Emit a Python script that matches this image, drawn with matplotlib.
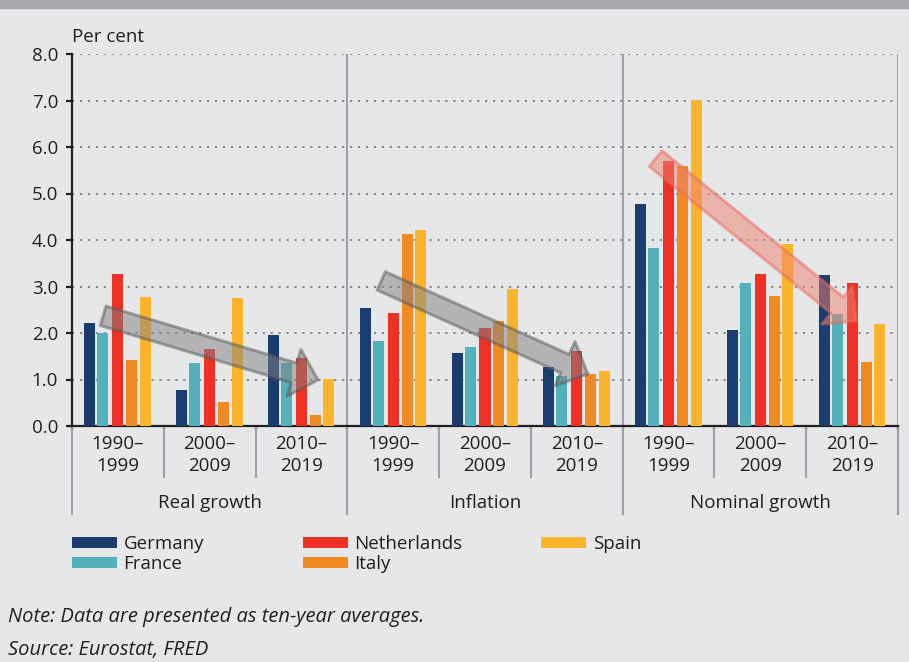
import matplotlib
matplotlib.use('Agg')
import matplotlib.pyplot as plt
import matplotlib.transforms as mtransforms
from matplotlib.patches import FancyArrowPatch, Patch, Rectangle, ArrowStyle
import numpy as np

plt.rcParams['font.family'] = ['Open Sans', 'DejaVu Sans']

countries = ['Germany', 'France', 'Netherlands', 'Italy', 'Spain']
colors = ['#1b3c6e', '#52b1bb', '#ee3124', '#f08a23', '#fbb42b']
periods = ['1990–\n1999', '2000–\n2009', '2010–\n2019']
measures = ['Real growth', 'Inflation', 'Nominal growth']

# order: real growth (3 periods), inflation (3), nominal growth (3)
germany = [2.21, 0.77, 1.96, 2.54, 1.57, 1.27, 4.77, 2.06, 3.25]
france = [2.00, 1.35, 1.35, 1.83, 1.70, 1.07, 3.83, 3.07, 2.41]
netherlands = [3.27, 1.66, 1.46, 2.43, 2.11, 1.61, 5.70, 3.27, 3.07]
italy = [1.42, 0.52, 0.24, 4.13, 2.26, 1.12, 5.59, 2.80, 1.38]
spain = [2.77, 2.75, 1.01, 4.21, 2.94, 1.18, 7.01, 3.91, 2.19]
series = [germany, france, netherlands, italy, spain]

# trend arrows: (start x, start y) -> (end x, end y) in data units
arrow_starts = [(-0.16, 2.37), (2.87, 3.12), (5.86, 5.75)]
arrow_ends = [(2.18, 0.99), (5.12, 1.12), (8.05, 2.26)]

bg = '#e6e7e8'
txt = '#231f20'
fs = 13.5
fig = plt.figure(figsize=(9.09, 6.62), dpi=100, facecolor=bg)
W, H = 909, 662
ax = fig.add_axes([72 / W, 1 - 426 / H, (898 - 72) / W, (426 - 54) / H])
ax.set_facecolor(bg)

x = np.arange(9)
offsets = [-0.305, -0.163, 0.0, 0.152, 0.30]
for vals, off, c, name in zip(series, offsets, colors, countries):
    ax.bar(x + off, vals, width=0.12, color=c, label=name, zorder=3)

ax.set_xlim(-0.5, 8.5)
ax.set_ylim(0, 8)
ax.set_yticks(np.arange(0, 9))
ax.set_yticklabels([f'{v:.1f}' for v in range(9)], fontsize=fs, color=txt)
for v in range(1, 9):
    ax.axhline(v, color='#7d7e81', lw=1.3, ls=(0, (1.2, 3.2)), zorder=1)

for s in ['top', 'right']:
    ax.spines[s].set_visible(False)
for s in ['left', 'bottom']:
    ax.spines[s].set_linewidth(1.6)
    ax.spines[s].set_color(txt)
ax.tick_params(axis='y', length=4, width=1.6, color=txt, pad=6)
ax.set_xticks(np.arange(-0.5, 9, 1))
ax.set_xticklabels([])
ax.tick_params(axis='x', length=3, width=1.6, color=txt)

# separators below and inside the plot
trans = mtransforms.blended_transform_factory(ax.transData, ax.transAxes)
ah = 426 - 54
for b in [2.5, 5.5, 8.5]:
    ax.plot([b, b], [0, 1], color='#a0a1a4', lw=1.5, transform=trans, zorder=2)
for b in [-0.5, 2.5, 5.5, 8.5]:
    ax.plot([b, b], [0, -88 / ah], color='#a0a1a4', lw=1.5, transform=trans,
            clip_on=False, zorder=2)
for b in [0.5, 1.5, 3.5, 4.5, 6.5, 7.5]:
    ax.plot([b, b], [0, -51 / ah], color='#a0a1a4', lw=1.5, transform=trans,
            clip_on=False, zorder=2)

for i in range(9):
    ax.text(i, -29 / ah, periods[i % 3], transform=trans, ha='center', va='center',
            fontsize=fs, color=txt, linespacing=1.35)
for j, m in enumerate(measures):
    ax.text(3 * j + 1, -77 / ah, m, transform=trans, ha='center', va='center',
            fontsize=fs, color=txt)

ax.text(0, 1.047, 'Per cent', transform=ax.transAxes, ha='left', va='center',
        fontsize=fs, color=txt)

# arrows
arrow_face = ['#808285', '#808285', '#f08270']
arrow_edge = ['#58595b', '#58595b', '#e86a62']
style = ArrowStyle.Simple(head_length=18, head_width=35, tail_width=14.5)
for st, en, fc, ec in zip(arrow_starts, arrow_ends, arrow_face, arrow_edge):
    p = FancyArrowPatch(st, en, arrowstyle=style, mutation_scale=1,
                        shrinkA=0, shrinkB=0, facecolor=fc, edgecolor=ec,
                        lw=2.2, alpha=0.5, zorder=5)
    ax.add_patch(p)

# top band
fig.patches.append(Rectangle((0, 1 - 8 / H), 1, 8 / H, transform=fig.transFigure,
                             color='#a7a9ac', zorder=0))

# legend in three columns
handles = [Patch(facecolor=c, edgecolor='none') for c in colors]
cols = [([0, 1], 72), ([2, 3], 303), ([4], 541)]
for idx, xpix in cols:
    leg = fig.legend([handles[i] for i in idx], [countries[i] for i in idx],
                     loc='upper left', bbox_to_anchor=(xpix / W, 1 - 535 / H),
                     frameon=False, fontsize=fs, handlelength=2.4, handleheight=0.58,
                     handletextpad=0.35, labelspacing=0.12, borderpad=0,
                     borderaxespad=0)
    for t in leg.get_texts():
        t.set_color(txt)

fig.text(8 / W, 1 - 617 / H, 'Note: Data are presented as ten-year averages.',
         style='italic', fontsize=14.5, va='center', color=txt)
fig.text(8 / W, 1 - 650 / H, 'Source: Eurostat, FRED',
         style='italic', fontsize=14.5, va='center', color=txt)

fig.savefig('out.png', dpi=100, facecolor=bg)
